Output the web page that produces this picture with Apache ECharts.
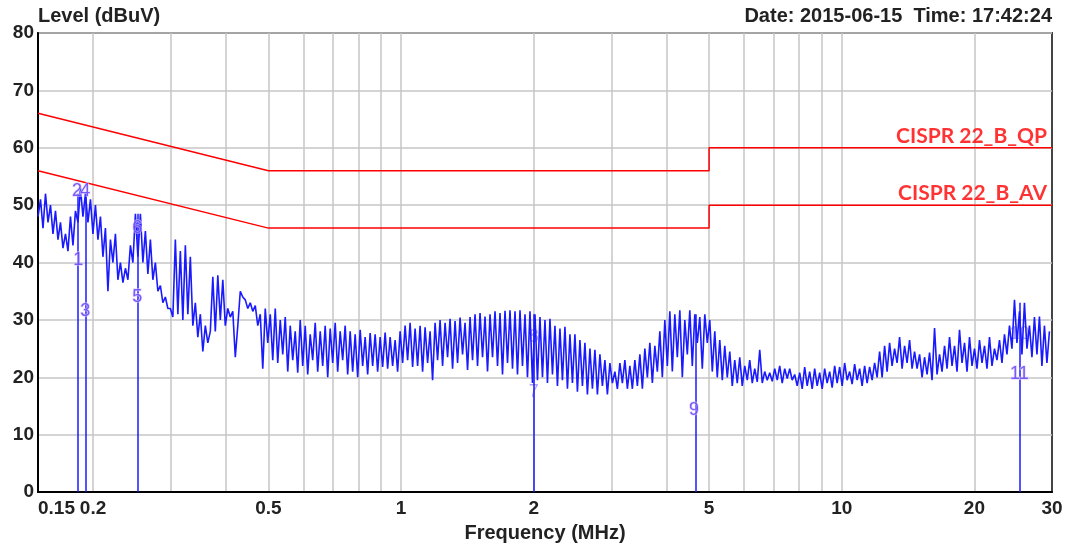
<!DOCTYPE html>
<html><head><meta charset="utf-8">
<script src="https://cdn.jsdelivr.net/npm/echarts@6/dist/echarts.min.js"></script>
<style>html,body{margin:0;padding:0;background:#fff}#c{width:1077px;height:548px}</style>
</head><body><div id="c"></div>
<script>
// ---- data ----
const sweepStart = 0.15, sweepStop = 29.6; // MHz, log sweep
const traceLevels = [
48,51,46,52,47,50,45,49,44,47,42.5,45,42,48,43,49,47,53,48,52,
47,51,45,50,44,48,41,46,35,44,40,45,37,40,36.5,39,37,43,40,48.5,
41,48.5,40,45.5,38,44,37,40,35,36,33,34,32,32,30.5,44,31,42,30,43,
31,41,29,33,27,31,24.5,29,26,28,37.5,28,37.8,30,37,29,32,30.5,31.5,23.5,
29,35,34,33.5,32,33,31.5,32.5,29,31,21.5,32,26,31,23,32,22.5,30,24,30.5,
21,29,23,28,20.8,30,22,29,20.5,27.5,23,29.5,21,28,22,29,20,28.5,22.5,29.5,
21,28,23,29,20.5,28,21,27.5,20,28.3,22,27,20.5,27.7,22,27.5,21,27,21.8,27.8,
21.5,27,22,26.5,21,28,22.5,29,23,29.5,21.8,28.5,22,29,21,28.7,22.5,28,19.5,29.5,
23,30,22,29.5,23.5,30.2,21.5,29.8,22.5,30.4,24,29.5,21.3,30.5,23,31,22,31.2,23.5,30.6,
21,31,23.5,31.5,22,31.2,20.5,31.6,22.5,31.7,21.5,31.5,20.5,31.7,22,31,20,31.5,19,31,
19.5,30.5,20,30,19,30.2,20.5,29,18.5,28.5,19.5,28.8,18,27.5,19,27.5,17.5,26.5,18.5,26,
17,25,18,24.8,17,24,18.5,23,17,22.5,19,21,18,22.5,19,23,18,22,18,23,
18.5,24,18,25,20,26,19,25.5,21,28,20,30,22,31.5,21,31,23.5,31.7,20,30,
24,31.7,22,31,26,30.5,21.5,31,26,30,21,28,20,26.5,19.5,25.5,20,24.5,18.5,23,
19,23.5,18.5,22,19.5,23,19,21.5,19.2,24.8,19,21,19.5,20.8,19.3,21.5,19.5,22,19,21.5,
19.8,21.5,19.5,20.5,18.5,20.8,18,21.8,18.5,21,18,21.5,18.5,20.8,18,21.5,19,21,18.2,22,
19,21.8,18.5,22.5,19.5,21,18.8,22.3,19.5,21.5,18.5,22,19,21.8,19.5,22.5,20,24.5,20,25.5,
21,26,22,25,22.5,27,21.5,25.5,22.5,26.5,21.5,24.5,21.5,24,20,23.5,20.5,24.3,19.5,28.6,
20.5,24,21,25.5,21.5,27,22,25.5,21,28.3,22.5,26,21,27,22,25,21.5,26.5,22.5,25.5,
21.5,27,22,25,23,26.5,22.5,27.5,24,29,25,33.5,26,31.5,24,33,25,29,23.5,30.5,
24,30.6,22,29,22.5,28
];
const gridFreqs = [0.2,0.3,0.4,0.5,0.6,0.7,0.8,0.9,1,2,3,4,5,6,7,8,9,10,20];
const tickFreqs = [0.15,0.2,0.5,1,2,5,10,20,30];
const tickLabels = ['0.15','0.2','0.5','1','2','5','10','20','30'];
const qpFreqs = [0.15,0.5,5,5,30];
const qpLevels = [66,56,56,60,60];
const avFreqs = [0.15,0.5,5,5,30];
const avLevels = [56,46,46,50,50];
const limitNames = ['CISPR 22_B_QP','CISPR 22_B_AV'];
const markerFreqs = [0.185,0.193,0.253,2.0,4.67,25.3];
const markerTops = [52,52,48.5,31,31,33];
const markerLabelNames = ['2','4','1','3','6','5','8','7','9','10','11'];
const markerLabelFreqs = [0.184,0.192,0.185,0.192,0.252,0.252,2.0,2.0,4.62,25.3,25.3];
const markerLabelLevels = [52.5,52.5,40.5,31.5,46,34,27,17.5,14.3,27.5,20.5];

// ---- chart ----
const L = Math.log10;
const FF = "'Liberation Sans', Arial, sans-serif";
const N = traceLevels.length;
const traceData = traceLevels.map((v,i)=>[L(sweepStart)+(L(sweepStop)-L(sweepStart))*i/(N-1), v]);
function labelFor(v){
  let best=0, bd=1e9;
  tickFreqs.forEach((f,i)=>{const d=Math.abs(L(f)-v); if(d<bd){bd=d;best=i;}});
  return tickLabels[best];
}
const behindTrace = ['7','8','10']; // labels that the trace covers in the original
const labelPts = markerLabelNames.map((n,i)=>[L(markerLabelFreqs[i]),markerLabelLevels[i],n]);
const markerLabelStyle = {show:true,position:'inside',formatter:p=>p.data[2],color:'#5a3cf5',fontSize:18,fontFamily:FF,
  textBorderColor:'rgba(225,205,255,0.85)',textBorderWidth:1.5};
const chart = echarts.init(document.getElementById('c'), null, {renderer:'canvas'});
chart.setOption({
  animation:false,
  backgroundColor:'#fff',
  grid:{left:38,right:25,top:33,bottom:55,show:true,borderColor:'#444',borderWidth:2,containLabel:false},
  graphic:[
    {type:'text',left:38,top:6,style:{text:'Level (dBuV)',font:"bold 20px "+FF,fill:'#222'}},
    {type:'text',right:25,top:6,style:{text:'Date: 2015-06-15  Time: 17:42:24',font:"bold 20px "+FF,fill:'#222'}}
  ],
  xAxis:{
    type:'value', min:L(0.15), max:L(30),
    axisLine:{show:true,onZero:false,lineStyle:{color:'#000',width:2}},
    axisTick:{show:false,customValues:gridFreqs.map(L)},
    splitLine:{show:true,lineStyle:{color:'#c6c6c6',width:1.5}},
    axisLabel:{customValues:tickFreqs.map(L),formatter:labelFor,alignMinLabel:'left',margin:7,
      fontSize:19,fontWeight:'bold',color:'#222',fontFamily:FF},
    name:'Frequency (MHz)',nameLocation:'middle',nameGap:30,
    nameTextStyle:{fontSize:20,fontWeight:'bold',color:'#222',fontFamily:FF}
  },
  yAxis:{
    type:'value',min:0,max:80,interval:10,
    axisLine:{show:true,onZero:false,lineStyle:{color:'#000',width:2}},
    axisTick:{show:false},
    splitLine:{show:true,lineStyle:{color:'#c6c6c6',width:1.5}},
    axisLabel:{margin:4,fontSize:19,fontWeight:'bold',color:'#222',fontFamily:FF}
  },
  series:[
    {type:'scatter',symbolSize:0,z:1,silent:true,labelLayout:{hideOverlap:false},
     data:labelPts.filter(p=>behindTrace.includes(p[2])),
     label:Object.assign({},markerLabelStyle,{color:'#9a88ff',textBorderWidth:0})},
    {type:'line',data:traceData,showSymbol:false,symbol:'none',z:3,
     lineStyle:{color:'#1a1aff',width:1.6},
     markLine:{silent:true,symbol:'none',label:{show:false},
       lineStyle:{color:'#1a1aff',width:1.5,type:'solid'},
       data:markerFreqs.map((f,i)=>[{coord:[L(f),0]},{coord:[L(f),markerTops[i]]}])}},
    {type:'line',data:qpFreqs.map((f,i)=>[L(f),qpLevels[i]]),showSymbol:false,symbol:'none',z:4,
     lineStyle:{color:'#ff0000',width:1.5}},
    {type:'line',data:avFreqs.map((f,i)=>[L(f),avLevels[i]]),showSymbol:false,symbol:'none',z:4,
     lineStyle:{color:'#ff0000',width:1.5}},
    {type:'scatter',symbolSize:0,z:5,silent:true,
     data:[[L(30),qpLevels[4],limitNames[0]],[L(30),avLevels[4],limitNames[1]]],
     label:{show:true,position:'left',distance:5,offset:[0,-12],formatter:p=>p.data[2],
       color:'#ff0000',fontSize:21,fontWeight:'bold',fontFamily:"Lato, 'Liberation Sans', sans-serif"}},
    {type:'scatter',symbolSize:0,z:6,zlevel:1,silent:true,
     labelLayout:{hideOverlap:false},
     data:labelPts.filter(p=>!behindTrace.includes(p[2])),
     label:markerLabelStyle}
  ]
});
</script></body></html>
